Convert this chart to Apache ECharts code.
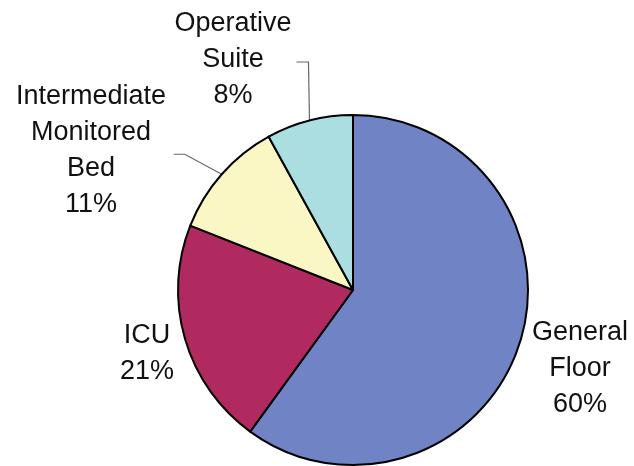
<!DOCTYPE html>
<html>
<head>
<meta charset="utf-8">
<script src="https://cdn.jsdelivr.net/npm/echarts@6/dist/echarts.min.js"></script>
<style>
  html, body { margin: 0; padding: 0; background: #fff; }
  #chart { width: 634px; height: 466px; }
</style>
</head>
<body>
<div id="chart"></div>
<script>
// slice names (line breaks as in the picture) and shares in %
var categories = ["General\nFloor", "ICU", "Intermediate\nMonitored\nBed", "Operative\nSuite"];
var shares = [60, 21, 11, 8];
var sliceColors = ["#7083c4", "#b0295f", "#faf7c4", "#aadee1"];

// where each label block sits (centre of text), and whether it has a leader line
var labelPos = [[580, 369], [147, 354], [91, 151], [233, 60]];
var hasLine = [false, false, true, true];

var chart = echarts.init(document.getElementById("chart"));

var data = categories.map(function (name, i) {
  return {
    name: name,
    value: shares[i],
    itemStyle: { color: sliceColors[i] },
    labelLine: { show: hasLine[i] }
  };
});

chart.setOption({
  animation: false,
  series: [
    {
      type: "pie",
      center: [353, 290],
      radius: 175,
      startAngle: 90,
      clockwise: true,
      avoidLabelOverlap: false,
      silent: true,
      itemStyle: {
        borderColor: "#000",
        borderWidth: 2
      },
      label: {
        show: true,
        position: "outside",
        formatter: "{b}\n{d}%",
        fontFamily: "Liberation Sans, Arial, sans-serif",
        fontSize: 27,
        lineHeight: 36,
        color: "#111",
        align: "center"
      },
      labelLine: {
        show: true,
        length: 20,
        length2: 10,
        lineStyle: { color: "#666", width: 1.2 }
      },
      labelLayout: function (params) {
        var i = params.dataIndex;
        var p = labelPos[i];
        var out = {
          x: p[0],
          y: p[1],
          align: "center",
          verticalAlign: "middle"
        };
        if (hasLine[i] && params.labelLinePoints) {
          var a = params.labelLinePoints[0];
          if (i === 3) {
            // runs straight up, then a short step left
            out.labelLinePoints = [a, [a[0] - 1, 62], [a[0] - 13, 62]];
          } else {
            out.labelLinePoints = [a, [a[0] - 37, a[1] - 20], [a[0] - 48, a[1] - 20]];
          }
        }
        return out;
      },
      data: data
    }
  ]
});
</script>
</body>
</html>
